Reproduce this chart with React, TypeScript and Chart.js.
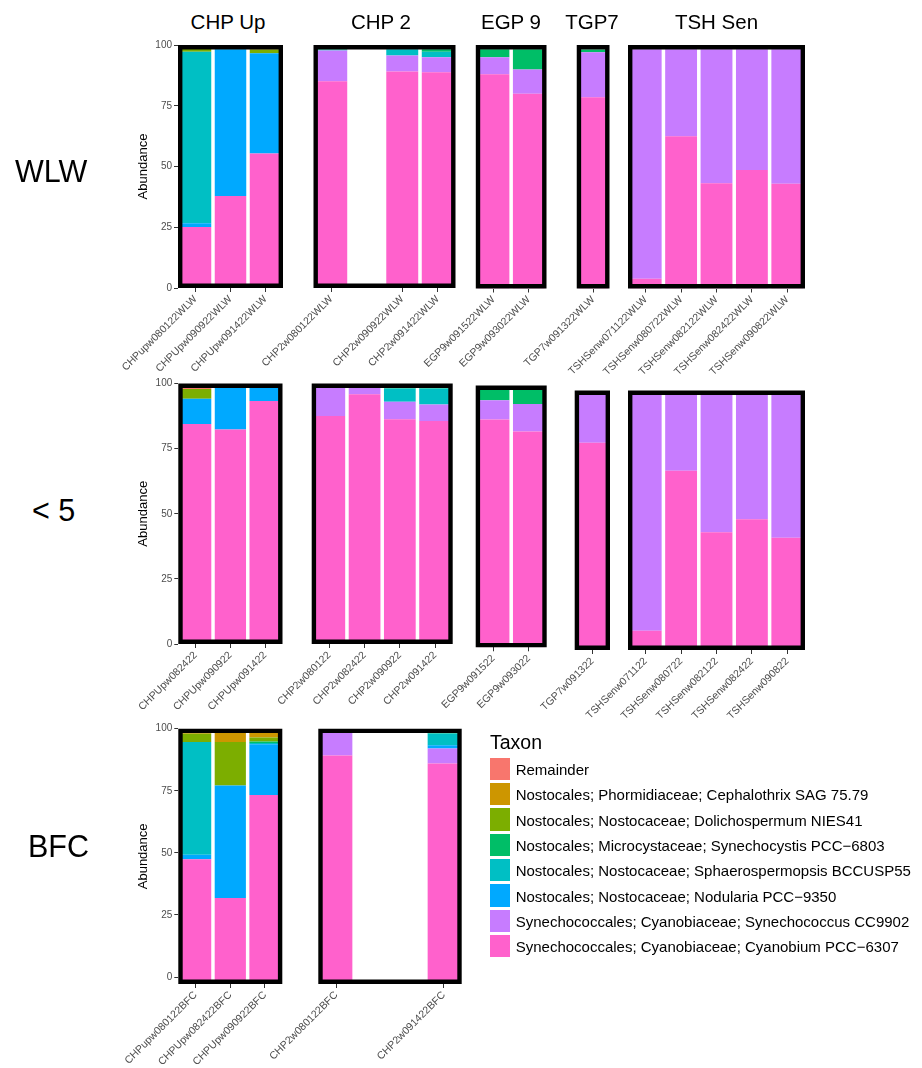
import React, { useEffect, useRef } from "react";
import { Chart, registerables } from "chart.js";

Chart.register(...registerables);

// ---------------- DATA ----------------
// taxa, stacked from bottom to top
const taxa = [
  "Synechococcales; Cyanobiaceae; Cyanobium PCC\u22126307",
  "Synechococcales; Cyanobiaceae; Synechococcus CC9902",
  "Nostocales; Nostocaceae; Nodularia PCC\u22129350",
  "Nostocales; Nostocaceae; Sphaerospermopsis BCCUSP55",
  "Nostocales; Microcystaceae; Synechocystis PCC\u22126803",
  "Nostocales; Nostocaceae; Dolichospermum NIES41",
  "Nostocales; Phormidiaceae; Cephalothrix SAG 75.79",
  "Remainder",
];
const taxonColors = ["#FF61CC", "#C77CFF", "#00A9FF", "#00BFC4", "#00BE67", "#7CAE00", "#CD9600", "#F8766D"];
const siteNames = ["CHP Up", "CHP 2", "EGP 9", "TGP7", "TSH Sen"];
const rowNames = ["WLW", "< 5", "BFC"];
const yTicks = [0, 25, 50, 75, 100];

// WLW
const wlwSamples = ["CHPupw080122WLW", "CHPUpw090922WLW", "CHPUpw091422WLW", "CHP2w080122WLW", "", "CHP2w090922WLW", "CHP2w091422WLW", "EGP9w091522WLW", "EGP9w093022WLW", "TGP7w091322WLW", "TSHSenw071122WLW", "TSHSenw080722WLW", "TSHSenw082122WLW", "TSHSenw082422WLW", "TSHSenw090822WLW"];
const wlwSites = ["CHP Up", "CHP Up", "CHP Up", "CHP 2", "CHP 2", "CHP 2", "CHP 2", "EGP 9", "EGP 9", "TGP7", "TSH Sen", "TSH Sen", "TSH Sen", "TSH Sen", "TSH Sen"];
const wlwCyanobium = [25.1, 37.9, 55.4, 85.1, null, 89.1, 88.8, 88.0, 80.0, 78.5, 4.0, 62.5, 43.2, 48.7, 43.0];
const wlwSynechococcus = [0, 0, 0, 12.6, null, 6.6, 6.2, 7.0, 9.9, 18.5, 94.3, 35.8, 55.1, 49.6, 55.3];
const wlwNodularia = [1.5, 60.3, 41.2, 0, null, 0, 0, 0, 0, 0, 0, 0, 0, 0, 0];
const wlwSphaerospermopsis = [70.6, 0.3, 0, 0.3, null, 2.5, 2.2, 0, 0, 0, 0, 0, 0, 0, 0];
const wlwSynechocystis = [0, 0.4, 0, 0.3, null, 0, 1.0, 3.3, 8.4, 1.2, 0, 0, 0, 0, 0];
const wlwDolichospermum = [1.8, 0, 1.5, 0, null, 0, 0, 0, 0, 0, 0, 0, 0, 0, 0];
const wlwCephalothrix = [0, 0, 0.2, 0, null, 0, 0, 0, 0, 0, 0, 0, 0, 0, 0];
const wlwRemainder = [0, 0, 0.7, 0, null, 0, 0, 0, 0, 0, 0, 0, 0, 0, 0];

// < 5
const lt5Samples = ["CHPUpw082422", "CHPUpw090922", "CHPUpw091422", "CHP2w080122", "CHP2w082422", "CHP2w090922", "CHP2w091422", "EGP9w091522", "EGP9w093022", "TGP7w091322", "TSHSenw071122", "TSHSenw080722", "TSHSenw082122", "TSHSenw082422", "TSHSenw090822"];
const lt5Sites = ["CHP Up", "CHP Up", "CHP Up", "CHP 2", "CHP 2", "CHP 2", "CHP 2", "EGP 9", "EGP 9", "TGP7", "TSH Sen", "TSH Sen", "TSH Sen", "TSH Sen", "TSH Sen"];
const lt5Cyanobium = [84.5, 82.3, 93.3, 87.5, 95.9, 86.3, 85.6, 87.0, 82.4, 79.9, 7.4, 69.1, 45.4, 50.4, 43.3];
const lt5Synechococcus = [0, 0, 0, 11.5, 2.6, 6.7, 6.3, 7.4, 10.5, 18.8, 91.3, 29.6, 53.3, 48.3, 55.4];
const lt5Nodularia = [9.6, 17.1, 5.3, 0, 0, 0, 0, 0, 0, 0, 0, 0, 0, 0, 0];
const lt5Sphaerospermopsis = [0, 0, 0, 0, 0.7, 5.1, 6.2, 0, 0, 0, 0, 0, 0, 0, 0];
const lt5Synechocystis = [0, 0.3, 0, 0, 0, 1.1, 1.3, 4.2, 5.7, 0.2, 0, 0, 0, 0, 0];
const lt5Dolichospermum = [3.8, 0, 0, 0, 0, 0, 0, 0, 0, 0, 0, 0, 0, 0, 0];
const lt5Cephalothrix = [0, 0, 0, 0, 0, 0, 0, 0, 0, 0, 0, 0, 0, 0, 0];
const lt5Remainder = [1.8, 0, 1.0, 0, 0, 0, 0, 0, 0, 0, 0, 0, 0, 0, 0];

// BFC
const bfcSamples = ["CHPupw080122BFC", "CHPUpw082422BFC", "CHPUpw090922BFC", "CHP2w080122BFC", "", "", "CHP2w091422BFC"];
const bfcSites = ["CHP Up", "CHP Up", "CHP Up", "CHP 2", "CHP 2", "CHP 2", "CHP 2"];
const bfcCyanobium = [47.4, 31.8, 73.3, 89.2, null, null, 86.0];
const bfcSynechococcus = [0, 0, 0, 10.1, null, null, 6.0];
const bfcNodularia = [1.8, 45.3, 20.4, 0, null, null, 1.3];
const bfcSphaerospermopsis = [45.4, 0, 0.5, 0, null, null, 4.8];
const bfcSynechocystis = [0, 0, 0.6, 0.5, null, null, 1.5];
const bfcDolichospermum = [3.4, 17.5, 1.7, 0, null, null, 0];
const bfcCephalothrix = [1.3, 4.5, 2.5, 0, null, null, 0];
const bfcRemainder = [0.6, 0.8, 1.0, 0, null, null, 0];

// ---------------- LAYOUT ----------------
const FONT = '"Liberation Sans", Arial, Helvetica, sans-serif';

type Rect = { site: string; left: number; top: number; right: number; bottom: number };

const wlwRects: Rect[] = [
  { site: "CHP Up", left: 178, top: 45, right: 283, bottom: 288 },
  { site: "CHP 2", left: 313.5, top: 45, right: 455.5, bottom: 288 },
  { site: "EGP 9", left: 475.8, top: 45, right: 546.5, bottom: 288.5 },
  { site: "TGP7", left: 575, top: 45, right: 609.5, bottom: 288.5 },
  { site: "TSH Sen", left: 628, top: 45, right: 805, bottom: 288.5 },
];
const lt5Rects: Rect[] = [
  { site: "CHP Up", left: 178.3, top: 383.5, right: 282.5, bottom: 644 },
  { site: "CHP 2", left: 311.7, top: 383.5, right: 452.7, bottom: 644 },
  { site: "EGP 9", left: 475.7, top: 385.5, right: 546.7, bottom: 647.3 },
  { site: "TGP7", left: 574.7, top: 390.5, right: 610, bottom: 650 },
  { site: "TSH Sen", left: 628, top: 390.5, right: 805, bottom: 650 },
];
const bfcRects: Rect[] = [
  { site: "CHP Up", left: 178.3, top: 728.7, right: 282.3, bottom: 984 },
  { site: "CHP 2", left: 318.3, top: 728.7, right: 461.7, bottom: 984 },
];

const rows = [
  {
    name: rowNames[0], samples: wlwSamples, sites: wlwSites, yMin: 0, rects: wlwRects,
    series: [wlwCyanobium, wlwSynechococcus, wlwNodularia, wlwSphaerospermopsis, wlwSynechocystis, wlwDolichospermum, wlwCephalothrix, wlwRemainder],
    labelX: 15, labelY: 170.5,
  },
  {
    name: rowNames[1], samples: lt5Samples, sites: lt5Sites, yMin: 0, rects: lt5Rects,
    series: [lt5Cyanobium, lt5Synechococcus, lt5Nodularia, lt5Sphaerospermopsis, lt5Synechocystis, lt5Dolichospermum, lt5Cephalothrix, lt5Remainder],
    labelX: 32, labelY: 510,
  },
  {
    name: rowNames[2], samples: bfcSamples, sites: bfcSites, yMin: -2.8, rects: bfcRects,
    series: [bfcCyanobium, bfcSynechococcus, bfcNodularia, bfcSphaerospermopsis, bfcSynechocystis, bfcDolichospermum, bfcCephalothrix, bfcRemainder],
    labelX: 28, labelY: 845.5,
  },
];

const titleCenters = [228, 381, 511, 592, 716.5];

const borderPlugin = {
  id: "panelBorder",
  afterDatasetsDraw(chart: any) {
    const { ctx, chartArea } = chart;
    const { left, top, right, bottom } = chartArea;
    ctx.save();
    ctx.beginPath();
    ctx.rect(left, top, right - left, bottom - top);
    ctx.clip();
    ctx.lineWidth = 8.8;
    ctx.strokeStyle = "#000";
    ctx.lineJoin = "round";
    ctx.strokeRect(left, top, right - left, bottom - top);
    ctx.restore();
  },
};

type PanelProps = {
  labels: string[];
  series: (number | null)[][];
  yMin: number;
  rect: Rect;
  showY: boolean;
};

function Panel({ labels, series, yMin, rect, showY }: PanelProps) {
  const ref = useRef<HTMLCanvasElement>(null);
  const PADL = 100, PADT = 10, PADR = 12, PADB = 95;
  const cl = Math.floor(rect.left - PADL);
  const ct = Math.floor(rect.top - PADT);
  const cr = Math.ceil(rect.right + PADR);
  const cb = Math.ceil(rect.bottom + PADB);
  const w = cr - cl;
  const h = cb - ct;
  const padL = rect.left - cl;
  const padT = rect.top - ct;
  const padR = cr - rect.right;
  const padB = cb - rect.bottom;

  useEffect(() => {
    if (!ref.current) return;
    const titleCenterX = 143;
    const titleLineHeight = 13 * 1.2;
    const chart = new Chart(ref.current, {
      type: "bar",
      data: {
        labels,
        datasets: taxa.map((t, i) => {
          const ds: any = {
            label: t,
            data: series[i],
            backgroundColor: taxonColors[i],
            borderWidth: 0,
            barPercentage: 0.9,
            categoryPercentage: 1,
          };
          if (i === 0 && yMin < 0) ds.base = yMin;
          return ds;
        }),
      },
      options: {
        responsive: false,
        animation: false,
        devicePixelRatio: 1,
        layout: { padding: { left: showY ? 0 : padL, top: padT, right: padR, bottom: 0 } },
        plugins: { legend: { display: false }, tooltip: { enabled: false }, title: { display: false } },
        scales: {
          x: {
            stacked: true,
            offset: true,
            border: { display: false },
            grid: {
              display: true,
              offset: false,
              drawOnChartArea: false,
              drawTicks: true,
              tickLength: 4,
              lineWidth: 1,
              color: (c: any) => (labels[c.index] ? "#333333" : "rgba(0,0,0,0)"),
            },
            ticks: {
              autoSkip: false,
              maxRotation: 45,
              minRotation: 45,
              padding: 1,
              color: "#4D4D4D",
              font: { family: FONT, size: 10.5 },
            },
            afterFit: (s: any) => {
              s.height = padB;
            },
          },
          y: {
            display: showY,
            stacked: true,
            min: yMin,
            max: 100,
            border: { display: false },
            grid: { drawOnChartArea: false, tickLength: 4, color: "#333333", lineWidth: 1 },
            ticks: { display: showY, color: "#4D4D4D", font: { family: FONT, size: 10 }, padding: 2 },
            afterBuildTicks: (s: any) => {
              s.ticks = yTicks.map((v) => ({ value: v }));
            },
            title: {
              display: showY,
              text: "Abundance",
              color: "#000000",
              font: { family: FONT, size: 13 },
              padding: { top: titleCenterX - cl - titleLineHeight / 2, bottom: 0 },
            },
            afterFit: (s: any) => {
              s.width = showY ? padL : 0;
            },
          },
        },
      } as any,
      plugins: [borderPlugin],
    });
    return () => chart.destroy();
  }, []);

  return (
    <canvas
      ref={ref}
      width={w}
      height={h}
      style={{ position: "absolute", left: cl, top: ct, width: w, height: h }}
    />
  );
}

export default function App() {
  const panels: React.ReactNode[] = [];
  rows.forEach((row, ri) => {
    row.rects.forEach((rect, pi) => {
      const idx = row.sites.map((s, i) => (s === rect.site ? i : -1)).filter((i) => i >= 0);
      const labels = idx.map((i) => row.samples[i]);
      const series = row.series.map((arr) => idx.map((i) => arr[i]));
      panels.push(
        <Panel key={`${ri}-${pi}`} labels={labels} series={series} yMin={row.yMin} rect={rect} showY={pi === 0} />
      );
    });
  });

  const legendTop = 757.7;
  const legendStep = 25.33;

  return (
    <div
      style={{
        position: "absolute",
        left: 0,
        top: 0,
        width: 922,
        height: 1068,
        background: "#ffffff",
        fontFamily: FONT,
        overflow: "hidden",
      }}
    >
      {panels}
      {siteNames.map((s, i) => (
        <div
          key={s}
          style={{
            position: "absolute",
            left: titleCenters[i],
            top: 21.5,
            transform: "translate(-50%, -50%)",
            fontSize: 20.5,
            lineHeight: 1,
            whiteSpace: "nowrap",
            color: "#000",
          }}
        >
          {s}
        </div>
      ))}
      {rows.map((r) => (
        <div
          key={r.name}
          style={{
            position: "absolute",
            left: r.labelX,
            top: r.labelY,
            transform: "translateY(-50%)",
            fontSize: 30.5,
            lineHeight: 1,
            whiteSpace: "nowrap",
            color: "#000",
          }}
        >
          {r.name}
        </div>
      ))}
      <div
        style={{
          position: "absolute",
          left: 490,
          top: 742.5,
          transform: "translateY(-50%)",
          fontSize: 19.5,
          lineHeight: 1,
          whiteSpace: "nowrap",
          color: "#000",
        }}
      >
        Taxon
      </div>
      {taxa
        .map((t, i) => ({ t, c: taxonColors[i] }))
        .reverse()
        .map((item, k) => (
          <React.Fragment key={item.t}>
            <div
              style={{
                position: "absolute",
                left: 490,
                top: legendTop + k * legendStep,
                width: 19.5,
                height: 22.3,
                background: item.c,
              }}
            />
            <div
              style={{
                position: "absolute",
                left: 515.7,
                top: legendTop + k * legendStep + 11.15,
                transform: "translateY(-50%)",
                fontSize: 15,
                lineHeight: 1,
                whiteSpace: "nowrap",
                color: "#000",
              }}
            >
              {item.t}
            </div>
          </React.Fragment>
        ))}
    </div>
  );
}
